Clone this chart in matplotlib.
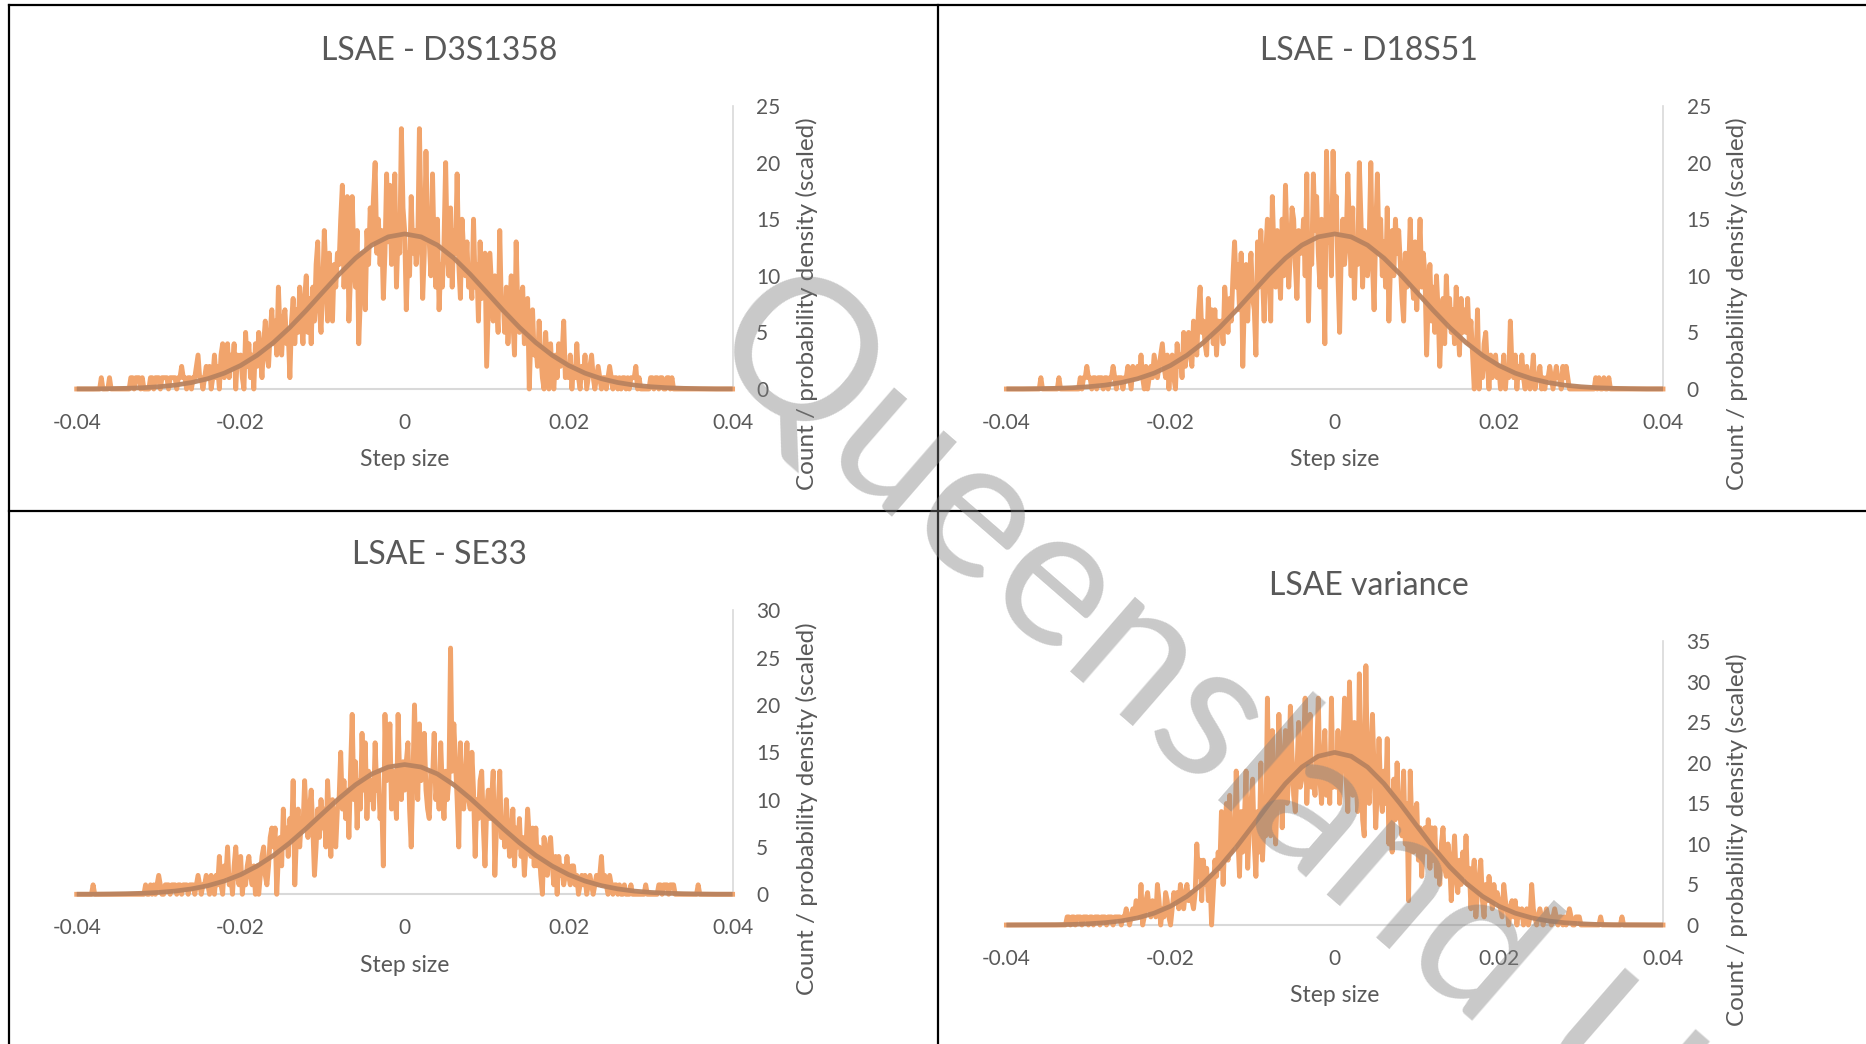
"""
Four LSAE step-size histograms with fitted normal curves (2x2 grid, Excel look).
"""

import numpy as np
import matplotlib
matplotlib.use('Agg')
import matplotlib.pyplot as plt
from matplotlib.lines import Line2D

plt.rcParams['font.family'] = ['Lato', 'DejaVu Sans']

# ---------------------------------------------------------------------------
# Data
# ---------------------------------------------------------------------------

STEP_START = -0.04      # first histogram bin
COUNT_BIN = 0.0002      # histogram bin width
FIT_BIN = 0.002         # spacing of the fitted-curve samples

TITLES = ["LSAE - D3S1358", "LSAE - D18S51", "LSAE - SE33", "LSAE variance"]
Y_MAX = [25, 25, 30, 35]

X_TICKS = [-0.04, -0.02, 0, 0.02, 0.04]
X_TICK_LABELS = ["-0.04", "-0.02", "0", "0.02", "0.04"]

COUNTS_D3S1358 = [
    0, 0, 0, 0, 0, 0, 0, 0, 0, 0, 0, 0, 0, 0, 0, 1, 0, 0, 0, 0,
    1, 0, 0, 0, 0, 0, 0, 0, 0, 0, 0, 0, 0, 1, 1, 0, 1, 1, 1, 0,
    1, 0, 0, 0, 0, 1, 1, 0, 1, 1, 1, 0, 1, 1, 1, 1, 0, 1, 1, 1,
    1, 0, 1, 1, 2, 1, 1, 0, 1, 1, 0, 1, 1, 2, 3, 1, 1, 0, 1, 2,
    1, 2, 0, 1, 3, 1, 2, 0, 3, 4, 1, 2, 4, 1, 3, 2, 4, 0, 3, 2,
    3, 1, 0, 5, 2, 4, 1, 3, 0, 4, 2, 5, 3, 1, 4, 6, 3, 2, 5, 7,
    4, 6, 3, 9, 5, 3, 6, 7, 4, 5, 1, 6, 8, 4, 7, 5, 9, 6, 4, 8,
    10, 5, 8, 4, 9, 6, 11, 13, 7, 5, 9, 14, 10, 6, 12, 8, 6, 11, 9, 12,
    11, 15, 18, 9, 13, 17, 6, 10, 17, 12, 9, 14, 4, 8, 12, 10, 7, 14, 11, 16,
    13, 17, 20, 12, 15, 11, 14, 8, 12, 19, 13, 18, 11, 14, 19, 9, 14, 12, 23, 16,
    14, 7, 12, 10, 17, 12, 14, 11, 13, 23, 15, 8, 12, 21, 14, 13, 10, 19, 12, 9,
    15, 7, 11, 9, 13, 20, 12, 10, 16, 9, 14, 12, 19, 11, 8, 15, 12, 10, 13, 9,
    10, 8, 15, 9, 11, 6, 13, 8, 10, 12, 2, 7, 12, 9, 6, 10, 8, 5, 14, 7,
    8, 5, 9, 4, 7, 10, 6, 3, 13, 7, 5, 8, 9, 4, 6, 8, 0, 5, 7, 3,
    4, 2, 6, 3, 1, 0, 5, 2, 0, 4, 1, 0, 3, 1, 4, 2, 3, 6, 1, 2,
    1, 3, 0, 2, 1, 4, 1, 0, 2, 1, 3, 0, 1, 2, 3, 1, 0, 1, 2, 1,
    0, 1, 1, 0, 1, 2, 1, 0, 1, 1, 0, 1, 0, 1, 1, 0, 1, 0, 1, 1,
    1, 2, 0, 1, 0, 0, 0, 0, 0, 0, 1, 1, 0, 1, 1, 0, 1, 1, 0, 0,
    1, 1, 0, 1, 0, 0, 0, 0, 0, 0, 0, 0, 0, 0, 0, 0, 0, 0, 0, 0,
    0, 0, 0, 0, 0, 0, 0, 0, 0, 0, 0, 0, 0, 0, 0, 0, 0, 0, 0, 0,
    0,
]

COUNTS_D18S51 = [
    0, 0, 0, 0, 0, 0, 0, 0, 0, 0, 0, 0, 0, 0, 0, 0, 0, 0, 0, 0,
    0, 1, 0, 0, 0, 0, 0, 0, 0, 0, 0, 0, 1, 0, 0, 0, 0, 0, 0, 0,
    0, 0, 0, 0, 0, 1, 0, 1, 1, 2, 1, 1, 0, 1, 1, 0, 1, 1, 1, 0,
    1, 1, 0, 1, 1, 2, 1, 0, 1, 1, 1, 0, 1, 1, 2, 1, 0, 2, 1, 1,
    2, 1, 3, 1, 0, 2, 0, 1, 2, 1, 3, 2, 1, 2, 3, 4, 2, 1, 3, 0,
    2, 3, 1, 0, 4, 2, 3, 1, 5, 2, 4, 5, 3, 2, 6, 4, 3, 7, 9, 5,
    6, 4, 3, 8, 5, 7, 4, 7, 3, 6, 5, 6, 4, 9, 7, 5, 8, 6, 10, 13,
    9, 11, 7, 12, 2, 8, 11, 6, 10, 12, 8, 7, 3, 13, 9, 14, 10, 6, 12, 15,
    10, 6, 17, 12, 9, 14, 11, 8, 15, 10, 18, 13, 9, 12, 16, 15, 11, 8, 14, 12,
    12, 15, 10, 19, 6, 13, 11, 19, 14, 17, 12, 9, 15, 11, 4, 21, 13, 16, 10, 21,
    14, 17, 10, 5, 12, 15, 11, 13, 19, 14, 10, 16, 8, 13, 11, 20, 15, 9, 14, 12,
    10, 13, 20, 11, 7, 14, 19, 12, 15, 10, 13, 9, 16, 6, 11, 14, 10, 15, 12, 14,
    11, 8, 6, 12, 9, 10, 15, 10, 8, 13, 7, 11, 15, 9, 12, 10, 3, 8, 11, 6,
    9, 5, 10, 7, 2, 6, 8, 4, 10, 6, 8, 5, 7, 4, 9, 6, 3, 8, 5, 7,
    5, 8, 4, 6, 3, 0, 2, 7, 0, 3, 1, 4, 5, 2, 0, 3, 1, 2, 3, 1,
    2, 0, 1, 3, 0, 2, 1, 6, 2, 1, 3, 0, 2, 1, 3, 1, 0, 2, 1, 0,
    1, 3, 0, 1, 1, 2, 0, 1, 0, 1, 1, 2, 1, 0, 1, 2, 1, 1, 0, 2,
    1, 2, 1, 0, 0, 0, 0, 0, 0, 0, 0, 0, 0, 0, 0, 0, 0, 0, 0, 1,
    0, 1, 0, 0, 1, 0, 0, 1, 0, 0, 0, 0, 0, 0, 0, 0, 0, 0, 0, 0,
    0, 0, 0, 0, 0, 0, 0, 0, 0, 0, 0, 0, 0, 0, 0, 0, 0, 0, 0, 0,
    0,
]

COUNTS_SE33 = [
    0, 0, 0, 0, 0, 0, 0, 0, 0, 0, 1, 0, 0, 0, 0, 0, 0, 0, 0, 0,
    0, 0, 0, 0, 0, 0, 0, 0, 0, 0, 0, 0, 0, 0, 0, 0, 0, 0, 0, 0,
    0, 0, 1, 0, 0, 1, 0, 1, 0, 1, 2, 1, 0, 0, 1, 1, 1, 0, 1, 1,
    1, 0, 1, 1, 0, 1, 1, 1, 0, 1, 1, 1, 0, 1, 2, 1, 0, 1, 1, 2,
    1, 0, 2, 1, 0, 2, 1, 4, 1, 0, 3, 2, 5, 1, 2, 0, 3, 5, 2, 1,
    4, 0, 2, 1, 3, 4, 2, 1, 3, 0, 3, 0, 2, 4, 5, 2, 1, 3, 6, 7,
    5, 7, 0, 4, 6, 3, 9, 5, 7, 4, 8, 6, 12, 1, 6, 9, 5, 8, 7, 12,
    8, 6, 9, 11, 7, 2, 5, 9, 6, 10, 7, 9, 5, 12, 8, 4, 10, 6, 5, 9,
    10, 15, 9, 12, 8, 11, 6, 13, 19, 10, 14, 7, 12, 9, 17, 11, 16, 8, 13, 10,
    12, 9, 16, 11, 13, 8, 10, 3, 19, 12, 14, 18, 9, 13, 11, 8, 19, 12, 10, 14,
    11, 14, 16, 9, 5, 12, 20, 13, 10, 18, 12, 14, 17, 11, 9, 8, 13, 12, 17, 10,
    12, 9, 16, 11, 8, 13, 10, 12, 26, 13, 18, 14, 10, 5, 16, 11, 9, 12, 16, 10,
    9, 15, 11, 4, 10, 8, 12, 13, 7, 3, 9, 11, 8, 10, 13, 2, 7, 9, 13, 6,
    8, 5, 10, 7, 4, 6, 9, 3, 7, 5, 8, 4, 6, 2, 5, 9, 6, 4, 7, 3,
    7, 3, 5, 2, 0, 6, 4, 2, 5, 6, 3, 1, 4, 0, 4, 2, 3, 1, 2, 4,
    2, 1, 3, 3, 1, 2, 0, 1, 2, 1, 2, 0, 1, 2, 1, 0, 1, 2, 1, 2,
    4, 1, 2, 1, 0, 2, 1, 0, 1, 1, 0, 1, 0, 0, 1, 0, 0, 0, 1, 0,
    0, 0, 0, 0, 0, 0, 0, 1, 0, 0, 0, 0, 0, 0, 0, 1, 1, 0, 1, 1,
    1, 0, 1, 1, 1, 0, 0, 0, 0, 0, 0, 0, 0, 0, 0, 0, 0, 0, 0, 1,
    0, 0, 0, 0, 0, 0, 0, 0, 0, 0, 0, 0, 0, 0, 0, 0, 0, 0, 0, 0,
    0,
]

COUNTS_VARIANCE = [
    0, 0, 0, 0, 0, 0, 0, 0, 0, 0, 0, 0, 0, 0, 0, 0, 0, 0, 0, 0,
    0, 0, 0, 0, 0, 0, 0, 0, 0, 0, 0, 0, 0, 0, 0, 0, 0, 1, 1, 0,
    1, 1, 0, 1, 1, 1, 0, 1, 1, 1, 0, 1, 1, 0, 1, 1, 1, 0, 1, 1,
    1, 0, 1, 1, 1, 0, 1, 1, 1, 1, 0, 1, 1, 2, 1, 0, 1, 2, 1, 3,
    2, 1, 5, 0, 1, 3, 4, 2, 1, 3, 2, 1, 5, 3, 0, 2, 1, 4, 3, 1,
    0, 2, 4, 3, 4, 2, 5, 3, 2, 4, 5, 3, 4, 3, 2, 4, 10, 6, 8, 3,
    8, 5, 7, 3, 6, 0, 4, 8, 6, 9, 7, 14, 5, 10, 15, 8, 16, 9, 12, 10,
    19, 11, 6, 14, 9, 13, 19, 7, 12, 15, 18, 10, 6, 14, 9, 20, 8, 13, 11, 28,
    15, 11, 24, 17, 10, 16, 26, 19, 12, 20, 24, 15, 18, 27, 21, 16, 14, 19, 25, 17,
    18, 22, 28, 15, 20, 26, 17, 19, 16, 21, 28, 18, 15, 20, 24, 16, 19, 15, 28, 17,
    20, 17, 24, 15, 19, 22, 28, 18, 14, 30, 21, 16, 25, 18, 14, 31, 22, 13, 11, 32,
    18, 15, 21, 26, 19, 12, 17, 23, 16, 14, 19, 15, 23, 10, 16, 9, 18, 13, 20, 15,
    13, 11, 19, 10, 15, 3, 19, 12, 9, 14, 15, 8, 12, 6, 10, 12, 9, 13, 7, 12,
    8, 12, 6, 9, 5, 10, 12, 7, 6, 10, 8, 3, 7, 11, 6, 4, 8, 5, 9, 6,
    11, 5, 7, 2, 6, 8, 1, 4, 6, 8, 3, 1, 5, 3, 6, 4, 2, 5, 3, 4,
    3, 2, 1, 5, 3, 2, 0, 2, 3, 1, 3, 0, 2, 1, 2, 0, 1, 2, 0, 1,
    5, 2, 1, 0, 1, 2, 1, 0, 1, 2, 1, 1, 0, 1, 2, 1, 0, 1, 1, 0,
    1, 0, 1, 2, 1, 0, 0, 1, 1, 1, 0, 0, 0, 0, 0, 0, 0, 0, 0, 0,
    0, 0, 1, 0, 0, 0, 0, 0, 0, 0, 0, 0, 0, 0, 0, 1, 0, 0, 0, 0,
    0, 0, 0, 0, 0, 0, 0, 0, 0, 0, 0, 0, 0, 0, 0, 0, 0, 0, 0, 0,
    0,
]

# scaled normal density, sampled every FIT_BIN from -0.04 to 0.04
FIT_MARKER = [
    0.01, 0.01, 0.03, 0.06, 0.11, 0.20, 0.34, 0.57, 0.91, 1.40,
    2.08, 2.98, 4.10, 5.44, 6.95, 8.55, 10.13, 11.56, 12.71, 13.44,
    13.70,
    13.44, 12.71, 11.56, 10.13, 8.55, 6.95, 5.44, 4.10, 2.98, 2.08,
    1.40, 0.91, 0.57, 0.34, 0.20, 0.11, 0.06, 0.03, 0.01, 0.01,
]
FIT_VARIANCE = [
    0.00, 0.01, 0.02, 0.03, 0.07, 0.15, 0.28, 0.50, 0.88, 1.46,
    2.32, 3.54, 5.16, 7.19, 9.59, 12.24, 14.94, 17.45, 19.49, 20.83,
    21.30,
    20.83, 19.49, 17.45, 14.94, 12.24, 9.59, 7.19, 5.16, 3.54, 2.32,
    1.46, 0.88, 0.50, 0.28, 0.15, 0.07, 0.03, 0.02, 0.01, 0.00,
]

COUNTS = [COUNTS_D3S1358, COUNTS_D18S51, COUNTS_SE33, COUNTS_VARIANCE]
FITS = [FIT_MARKER, FIT_MARKER, FIT_MARKER, FIT_VARIANCE]

# ---------------------------------------------------------------------------
# Layout / style
# ---------------------------------------------------------------------------

W, H = 1866, 1044
# plot areas in canvas pixels: left, right, top, bottom
PLOT_BOXES = [
    (76.7, 732.6, 106.0, 389.0),
    (1006.4, 1663.0, 106.0, 389.0),
    (76.7, 732.6, 610.2, 894.3),
    (1006.4, 1663.0, 641.4, 925.0),
]
PT = 72 / 100          # points per pixel at dpi 100

TEXT_COLOR = '#595959'
COUNT_COLOR = '#F1A46C'
FIT_COLOR = '#B9835F'
AXIS_COLOR = '#D9D9D9'


def add_panel(fig, box, title, counts, fit, ymax):
    l, r, t, b = box
    ax = fig.add_axes([l / W, 1 - b / H, (r - l) / W, (b - t) / H])

    xs = STEP_START + COUNT_BIN * np.arange(len(counts))
    xf = STEP_START + FIT_BIN * np.arange(len(fit))
    ax.plot(xs, counts, color=COUNT_COLOR, lw=3.5, solid_joinstyle='round',
            clip_on=False, zorder=3)
    ax.plot(xf, fit, color=FIT_COLOR, lw=3.4, alpha=0.95, solid_capstyle='butt',
            clip_on=False, zorder=4)

    ax.set_xlim(-0.04, 0.04)
    ax.set_ylim(0, ymax)
    ax.set_xticks(X_TICKS)
    ax.set_xticklabels(X_TICK_LABELS)
    ax.set_yticks(range(0, ymax + 1, 5))
    ax.yaxis.tick_right()
    ax.tick_params(axis='x', length=0, pad=17, labelsize=15, labelcolor=TEXT_COLOR)
    ax.tick_params(axis='y', length=0, pad=17, labelsize=15, labelcolor=TEXT_COLOR)

    for side in ('top', 'left'):
        ax.spines[side].set_visible(False)
    ax.spines['bottom'].set_color(AXIS_COLOR)
    ax.spines['bottom'].set_linewidth(1.5)
    ax.spines['right'].set_color(AXIS_COLOR)
    ax.spines['right'].set_linewidth(1.2)
    ax.patch.set_alpha(0)

    ax.annotate(title, xy=(0.5, 1), xycoords='axes fraction',
                xytext=(34.5 * PT, 55 * PT), textcoords='offset points',
                ha='center', va='center', fontsize=23, color=TEXT_COLOR)
    ax.annotate("Step size", xy=(0.5, 0), xycoords='axes fraction',
                xytext=(0, -71 * PT), textcoords='offset points',
                ha='center', va='center', fontsize=16.5, color=TEXT_COLOR)
    ax.annotate("Count / probability density (scaled)", xy=(1, 0.5),
                xycoords='axes fraction', xytext=(74 * PT, -56 * PT),
                textcoords='offset points', ha='center', va='center',
                rotation=90, fontsize=17.5, color=TEXT_COLOR)
    return ax


def add_border(fig, x0, y0, x1, y1):
    fig.add_artist(Line2D([x0 / W, x1 / W], [1 - y0 / H, 1 - y1 / H],
                          transform=fig.transFigure, color='black', lw=1.6))


def main():
    fig = plt.figure(figsize=(W / 100, H / 100), dpi=100)
    fig.patch.set_facecolor('white')

    for box, title, counts, fit, ymax in zip(PLOT_BOXES, TITLES, COUNTS, FITS, Y_MAX):
        add_panel(fig, box, title, counts, fit, ymax)

    # table cell borders
    add_border(fig, 9, 5, W, 5)
    add_border(fig, 9, 5, 9, H)
    add_border(fig, 937.5, 5, 937.5, H)
    add_border(fig, 9, 510.5, W, 510.5)

    # watermark (runs off the bottom edge, as in the source page)
    fig.text(700 / W, 1 - 350 / H, "Queensland University of Technology",
             rotation=-41, rotation_mode='anchor', ha='left', va='baseline',
             fontsize=142, color='#7F7F7F', alpha=0.42, zorder=10)

    fig.savefig('out.png', dpi=100)
    plt.close(fig)


if __name__ == '__main__':
    main()
